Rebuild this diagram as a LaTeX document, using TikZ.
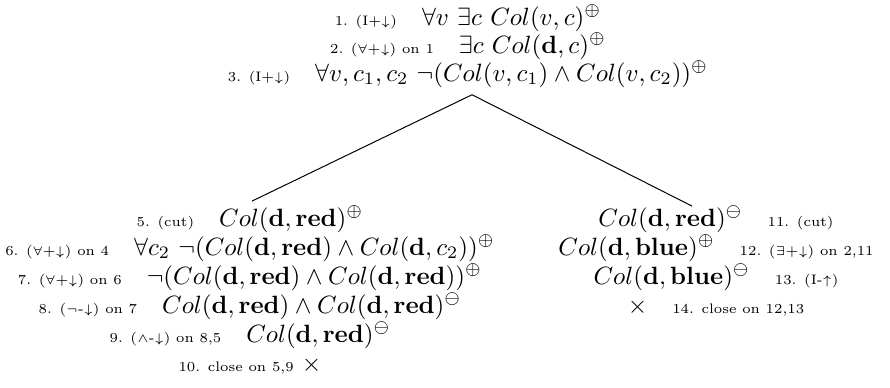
\documentclass[tikz,border=0pt]{standalone}
\usetikzlibrary{fit}
\newcommand{\lab}[1]{{\fontsize{5.5}{6}\selectfont #1}}
\begin{document}
\begin{tikzpicture}[x=0.4pt,y=-0.4pt,
  row/.style={anchor=base, inner sep=0pt, outer sep=0pt},
  grp/.style={inner sep=0pt, outer sep=0pt, draw=none},
  branch/.style={draw=black, line width=0.4pt}]
\useasboundingbox (0,0) rectangle (890,387);
% root
\node[row] (r1) at (468,25) {\lab{1. (I+$\downarrow$)}\quad $\forall v\ \exists c\ Col(v,c)^{\oplus}$};
\node[row] (r2) at (468,53) {\lab{2. ($\forall$+$\downarrow$) on 1}\quad $\exists c\ Col(\mathbf{d},c)^{\oplus}$};
\node[row] (r3) at (468,81) {\lab{3. (I+$\downarrow$)}\quad $\forall v,c_1,c_2\ \neg(Col(v,c_1)\wedge Col(v,c_2))^{\oplus}$};
% left branch
\node[row] (r5) at (250,226) {\lab{5. (cut)}\quad $Col(\mathbf{d},\mathbf{red})^{\oplus}$};
\node[row] (r6) at (250,255) {\lab{6. ($\forall$+$\downarrow$) on 4}\quad $\forall c_2\ \neg(Col(\mathbf{d},\mathbf{red})\wedge Col(\mathbf{d},c_2))^{\oplus}$};
\node[row] (r7) at (250,284) {\lab{7. ($\forall$+$\downarrow$) on 6}\quad $\neg(Col(\mathbf{d},\mathbf{red})\wedge Col(\mathbf{d},\mathbf{red}))^{\oplus}$};
\node[row] (r8) at (250,313) {\lab{8. ($\neg$-$\downarrow$) on 7}\quad $Col(\mathbf{d},\mathbf{red})\wedge Col(\mathbf{d},\mathbf{red})^{\ominus}$};
\node[row] (r9) at (250,342) {\lab{9. ($\wedge$-$\downarrow$) on 8,5}\quad $Col(\mathbf{d},\mathbf{red})^{\ominus}$};
\node[row] (r10) at (250,371) {\lab{10. close on 5,9} $\times$};
% right branch
\node[row] (r11) at (716,226) {$Col(\mathbf{d},\mathbf{red})^{\ominus}$\quad\lab{11. (cut)}};
\node[row] (r12) at (716,255) {$Col(\mathbf{d},\mathbf{blue})^{\oplus}$\quad\lab{12. ($\exists$+$\downarrow$) on 2,11}};
\node[row] (r13) at (716,284) {$Col(\mathbf{d},\mathbf{blue})^{\ominus}$\quad\lab{13. (I-$\uparrow$)}};
\node[row] (r14) at (716,313) {$\times$\quad\lab{14. close on 12,13}};
% groups
\node[grp, fit=(r1)(r2)(r3)] (root) {};
\node[grp, fit=(r5)(r6)(r7)(r8)(r9)(r10)] (left) {};
\node[grp, fit=(r11)(r12)(r13)(r14)] (right) {};
\draw[branch] ([xshift=1.6pt,yshift=-3pt]root.south) -- ([xshift=0.8pt,yshift=2pt]left.north);
\draw[branch] ([xshift=1.6pt,yshift=-3pt]root.south) -- ([xshift=-9.6pt]right.north);
\end{tikzpicture}
\end{document}
